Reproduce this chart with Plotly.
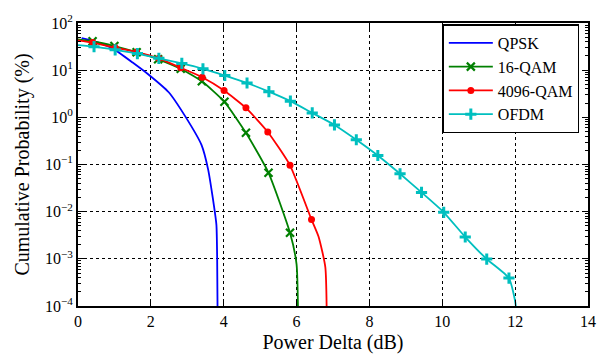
import plotly.graph_objects as go

# Measured CCDF curves: power delta (dB) vs cumulative probability (%)
qpsk_x = [0.1, 0.5, 0.95, 1.5, 1.95, 2.49, 2.94, 3.39, 3.57, 3.7, 3.8, 3.82, 3.85]
qpsk_y = [48, 40, 29, 14.5, 7.9, 3.4, 1.06, 0.26, 0.08, 0.0195, 0.0052, 0.001, 1e-6]

qam16_x = [0.0, 0.4, 1.0, 1.61, 2.2, 2.82, 3.4, 4.02, 4.61, 5.23, 5.82, 6.0, 6.06]
qam16_y = [45, 41, 32.5, 24, 17, 10.7, 5.8, 2.13, 0.47, 0.0666, 0.00356, 0.00076, 1e-6]

qam4096_x = [0.0, 0.4, 1.02, 1.61, 2.22, 2.82, 3.41, 4.01, 4.61, 5.21, 5.82, 6.41, 6.6, 6.79, 6.84]
qam4096_y = [43, 38.4, 30, 24.2, 17.8, 11.2, 7.1, 3.7, 1.59, 0.49, 0.096, 0.0068, 0.003, 0.00066, 1e-6]

ofdm_x = [0.0, 0.44, 1.02, 1.63, 2.22, 2.85, 3.43, 4.03, 4.64, 5.24, 5.83, 6.43, 7.04,
          7.64, 8.23, 8.84, 9.43, 10.04, 10.63, 11.22, 11.83, 12.02, 12.05]
ofdm_y = [34, 31.5, 27, 22.5, 17.8, 13.9, 10.7, 7.7, 5.35, 3.5, 2.2, 1.24, 0.69,
          0.335, 0.155, 0.0635, 0.0256, 0.0097, 0.0029, 0.00099, 0.00039, 1e-4, 1e-6]

x_ticks = [0, 2, 4, 6, 8, 10, 12, 14]
y_tickvals = [1e-4, 1e-3, 1e-2, 1e-1, 1, 10, 100]
y_ticktext = ["10<sup>\u22124</sup>", "10<sup>\u22123</sup>", "10<sup>\u22122</sup>",
              "10<sup>\u22121</sup>", "10<sup>0</sup>", "10<sup>1</sup>", "10<sup>2</sup>"]

FONT = "Liberation Serif, Times New Roman, serif"

series = [
    # name, x, y, colour, marker symbol, marker size, marker line width, marker slice
    ("QPSK", qpsk_x, qpsk_y, "#0000ff", None, 0, 0, None),
    ("16-QAM", qam16_x, qam16_y, "#008000", "x-thin", 8, 2.2, slice(1, -2)),
    ("4096-QAM", qam4096_x, qam4096_y, "#ff0000", "circle", 7, 0, slice(1, -3)),
    ("OFDM", ofdm_x, ofdm_y, "#00bfbf", "cross-thin", 8, 3, slice(1, -2)),
]

fig = go.Figure()
for name, xs, ys, col, sym, msize, mlw, sl in series:
    fig.add_trace(go.Scatter(x=xs, y=ys, mode="lines", showlegend=False,
                             line=dict(color=col, width=1.8, shape="spline", smoothing=0.5),
                             hoverinfo="skip"))
    mk = None
    if sym is not None:
        mk = dict(symbol=sym, size=msize, color=col, line=dict(color=col, width=mlw))
        fig.add_trace(go.Scatter(x=xs[sl], y=ys[sl], mode="markers", showlegend=False,
                                 marker=mk, cliponaxis=True))
    # legend entry
    fig.add_trace(go.Scatter(x=[None], y=[None], name=name, legendgroup=name,
                             mode="lines+markers" if mk else "lines",
                             line=dict(color=col, width=1.8), marker=mk))

axis_common = dict(
    showline=True, linecolor="black", linewidth=2, mirror="allticks",
    ticks="inside", ticklen=6, tickwidth=1, tickcolor="black",
    showgrid=True, gridcolor="black", griddash="dot", gridwidth=1,
    zeroline=False, tickfont=dict(family=FONT, size=16, color="black"),
)

fig.update_layout(
    width=608, height=362,
    margin=dict(l=78, r=12, t=15, b=48),
    paper_bgcolor="white", plot_bgcolor="white",
    font=dict(family=FONT, color="black"),
    xaxis=dict(range=[0, 14], tickvals=x_ticks,
               title=dict(text="Power Delta (dB)", font=dict(family=FONT, size=20), standoff=6),
               **axis_common),
    yaxis=dict(type="log", range=[-4, 2], tickvals=y_tickvals, ticktext=y_ticktext,
               minor=dict(ticks="inside", ticklen=3, tickcolor="black", showgrid=False,
                          tickvals=[m * 10 ** e for e in range(-4, 2) for m in range(2, 10)]),
               title=dict(text="Cumulative Probability (%)", font=dict(family=FONT, size=20), standoff=10),
               **axis_common),
    legend=dict(x=0.983, y=0.995, xanchor="right", yanchor="top",
                bgcolor="white", bordercolor="black", borderwidth=1.5,
                font=dict(family=FONT, size=16, color="black"),
                traceorder="grouped", tracegroupgap=0, itemwidth=44),
)

fig.write_html("out.html")
